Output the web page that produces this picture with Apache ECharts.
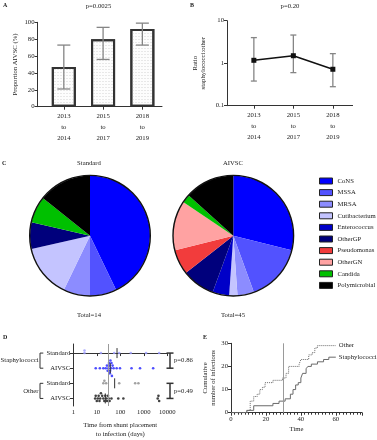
<!DOCTYPE html>
<html>
<head>
<meta charset="utf-8">
<script src="https://cdn.jsdelivr.net/npm/echarts@6/dist/echarts.min.js"></script>
<style>
  html, body { margin: 0; padding: 0; background: #fff; }
  #chart { width: 377px; height: 440px; }
</style>
</head>
<body>
<div id="chart"></div>
<script>
// A / B : by period
var periods = ['2013\nto\n2014', '2015\nto\n2017', '2018\nto\n2019'];
var aivscPct = [47, 80, 92];
var aivscLow = [21, 56, 73];
var aivscHigh = [73, 94, 99];
var ratio = [1.17, 1.5, 0.72];
var ratioLow = [0.38, 0.6, 0.28];
var ratioHigh = [4.0, 4.6, 1.68];

// C : organisms
var organisms = ['CoNS', 'MSSA', 'MRSA', 'Cutibacterium', 'Enterococcus', 'OtherGP', 'Pseudomonas', 'OtherGN', 'Candida', 'Polymicrobial'];
var orgColors = ['#0000ff', '#5252ff', '#8c8cff', '#c4c4ff', '#0000c8', '#00007c', '#f23c3c', '#ffa2a2', '#00c000', '#000000'];
var standardCounts = [6, 1, 1, 2, 0, 1, 0, 0, 1, 2];
var aivscCounts = [13, 7, 2, 1, 2, 4, 3, 6, 1, 6];

// D : time to infection (days)
var rowLabels = ['Standard', 'AIVSC', 'Standard', 'AIVSC'];
var groupLabels = ['Staphylococci', 'Other'];
var staphStandardDays = [3, 3, 15, 55, 90, 280, 1250, 4500];
var staphAivscDays = [9, 13.5, 19, 24, 27, 29, 31, 33, 35, 36, 37, 38, 40, 42, 44, 47, 52, 70, 97, 300, 690, 2500];
var otherStandardDays = [19, 21, 25, 90, 430, 590];
var otherAivscDays = [8.5, 9, 10, 11, 12, 13, 14, 15, 17, 19, 21, 23, 25, 27, 30, 32, 35, 42, 82, 135, 3900, 4200, 4500];
var pValuesD = ['p=0.86', 'p=0.49'];

// E : cumulative infections vs time
var otherCurve = [[0, 0], [9.5, 1], [11, 5], [13, 7], [15, 8], [16.5, 10], [18, 11], [19.5, 13], [24, 14], [29.5, 15], [31.5, 17], [33, 20], [39, 21], [40, 23], [44.5, 25], [46.5, 26], [48, 28], [49.5, 29], [60, 29]];
var staphCurve = [[0, 0], [9, 1], [13, 3], [24, 4], [27.5, 5], [31, 6], [34, 8], [35.5, 10], [37, 12], [38.5, 13], [40, 15], [41, 17], [43, 19], [44, 20], [46, 21], [49.5, 22], [53, 23], [56, 24], [60, 24]];

var FONT = 'Liberation Serif';
var FS = 6.7;
var INK = '#222';

var chart = echarts.init(document.getElementById('chart'));

function axisBase(extra) {
  var a = {
    axisLine: { show: true, lineStyle: { color: '#333', width: 1 } },
    axisTick: { show: true, length: 3, lineStyle: { color: '#333' } },
    axisLabel: { fontFamily: FONT, fontSize: FS, color: INK, margin: 3 },
    splitLine: { show: false },
    nameTextStyle: { fontFamily: FONT, fontSize: FS, color: INK }
  };
  for (var k in extra) {
    if (a[k] && typeof extra[k] === 'object' && !Array.isArray(extra[k])) {
      a[k] = Object.assign({}, a[k], extra[k]);
    } else {
      a[k] = extra[k];
    }
  }
  return a;
}

function errBars(capHalf) {
  return function (params, api) {
    var x = api.value(0);
    var lo = api.coord([x, api.value(1)]);
    var hi = api.coord([x, api.value(2)]);
    var st = { stroke: '#858585', lineWidth: 1.3 };
    return {
      type: 'group',
      children: [
        { type: 'line', shape: { x1: lo[0], y1: lo[1], x2: hi[0], y2: hi[1] }, style: st },
        { type: 'line', shape: { x1: lo[0] - capHalf, y1: lo[1], x2: lo[0] + capHalf, y2: lo[1] }, style: st },
        { type: 'line', shape: { x1: hi[0] - capHalf, y1: hi[1], x2: hi[0] + capHalf, y2: hi[1] }, style: st }
      ]
    };
  };
}

// simple beeswarm: stack close points vertically
function swarm(values, row) {
  var placed = [];
  return values.slice().sort(function (a, b) { return a - b; }).map(function (v) {
    var lx = Math.log10(v);
    var k = 0, off;
    while (true) {
      off = k === 0 ? 0 : (k % 2 ? -(k + 1) / 2 : k / 2);
      var clash = placed.some(function (p) { return p.off === off && Math.abs(p.lx - lx) < 0.1; });
      if (!clash) break;
      k++;
    }
    placed.push({ lx: lx, off: off });
    return [v, row + off * 0.17];
  });
}

function median(arr) {
  var s = arr.slice().sort(function (a, b) { return a - b; });
  var n = s.length;
  return n % 2 ? s[(n - 1) / 2] : (s[n / 2 - 1] + s[n / 2]) / 2;
}

var dRows = [staphStandardDays, staphAivscDays, otherStandardDays, otherAivscDays];
var dColors = ['#9a9aff', '#2020ff', '#8a8a8a', '#111111'];

var dScatter = dRows.map(function (vals, i) {
  var s = {
    type: 'scatter', xAxisIndex: 2, yAxisIndex: 2,
    symbol: 'circle', symbolSize: 2.6,
    itemStyle: { color: dColors[i] },
    data: swarm(vals, i),
    silent: true, z: 3
  };
  if (i === 0) {
    s.markLine = {
      silent: true, symbol: 'none', label: { show: false },
      lineStyle: { color: '#9a9a9a', width: 1, type: 'solid' },
      data: [{ xAxis: 30 }]
    };
  }
  return s;
});

var pieData = function (counts) {
  return organisms.map(function (n, i) {
    return { name: n, value: counts[i], itemStyle: { color: orgColors[i] } };
  });
};

function pieSeries(counts, cx) {
  return [{
    type: 'pie', center: [cx, 235.7], radius: 60, startAngle: 90, clockwise: true,
    label: { show: false }, labelLine: { show: false }, silent: true,
    itemStyle: { borderWidth: 0 },
    emphasis: { disabled: true },
    data: pieData(counts)
  }, {
    type: 'pie', center: [cx, 235.7], radius: [59.6, 61], silent: true,
    label: { show: false }, labelLine: { show: false },
    itemStyle: { color: '#111', borderWidth: 0 },
    emphasis: { disabled: true },
    data: [{ name: 'ring', value: 1 }]
  }];
}

function txt(x, y, s, align, font) {
  return {
    type: 'text', x: x, y: y,
    style: { text: s, font: font || (FS + 'px ' + FONT), fill: INK, align: align || 'center', verticalAlign: 'middle' }
  };
}

var option = {
  animation: false,
  textStyle: { fontFamily: FONT },
  grid: [
    { left: 37.5, top: 22.3, width: 124.5, height: 84.4 },
    { left: 227, top: 20.7, width: 125.6, height: 85 },
    { left: 73.3, top: 344, width: 94, height: 66 },
    { left: 231, top: 343.3, width: 131, height: 69.4 }
  ],
  xAxis: [
    axisBase({
      gridIndex: 0, type: 'value', min: 0.33, max: 3.5,
      axisTick: { customValues: [1, 2, 3], length: 3 },
      axisLabel: { customValues: [1, 2, 3], lineHeight: 11, margin: 4, formatter: function (v) { return periods[Math.round(v) - 1]; } }
    }),
    axisBase({
      gridIndex: 1, type: 'value', min: 0.32, max: 3.5,
      axisTick: { customValues: [1, 2, 3], length: 3 },
      axisLabel: { customValues: [1, 2, 3], lineHeight: 11, margin: 4, formatter: function (v) { return periods[Math.round(v) - 1]; } }
    }),
    axisBase({
      gridIndex: 2, type: 'log', logBase: 10, min: 1, max: 10000,
      name: 'Time from shunt placement\nto infection (days)', nameLocation: 'middle', nameGap: 15,
      nameTextStyle: { lineHeight: 9 },
      axisLabel: { formatter: function (v) { return String(Math.round(v)); } }
    }),
    axisBase({
      gridIndex: 3, type: 'value', min: 0, max: 75, interval: 20,
      name: 'Time', nameLocation: 'middle', nameGap: 13,
      minorTick: { show: true, splitNumber: 10, length: 2, lineStyle: { color: '#333' } },
      axisLabel: { showMaxLabel: false }
    })
  ],
  yAxis: [
    axisBase({
      gridIndex: 0, type: 'value', min: 0, max: 100, interval: 20,
      name: 'Proportion AIVSC (%)', nameLocation: 'middle', nameGap: 19
    }),
    axisBase({
      gridIndex: 1, type: 'log', logBase: 10, min: 0.1, max: 10,
      name: 'Ratio\nstaphylococci:other', nameLocation: 'middle', nameGap: 20,
      nameTextStyle: { lineHeight: 8 },
      axisLabel: { formatter: function (v) { return String(v); } }
    }),
    axisBase({
      gridIndex: 2, type: 'value', inverse: true, min: -0.6, max: 3.5,
      axisTick: { customValues: [0, 1, 2, 3], length: 3.5 },
      axisLabel: { customValues: [0, 1, 2, 3], margin: 3, formatter: function (v) { return rowLabels[Math.round(v)]; } }
    }),
    axisBase({
      gridIndex: 3, type: 'value', min: 0, max: 30, interval: 10,
      name: 'Cumulative\nnumber of infections', nameLocation: 'middle', nameGap: 11,
      nameTextStyle: { lineHeight: 8 }
    })
  ],
  legend: {
    orient: 'vertical', left: 319, top: 177.5, padding: 0,
    itemWidth: 13, itemHeight: 6, itemGap: 4.6,
    icon: 'rect', selectedMode: false,
    itemStyle: { borderColor: '#222', borderWidth: 1 },
    textStyle: { fontFamily: FONT, fontSize: FS, color: INK },
    data: organisms
  },
  graphic: [
    txt(3, 5, 'A', 'left', 'bold 6px ' + FONT),
    txt(190, 5, 'B', 'left', 'bold 6px ' + FONT),
    txt(2, 163, 'C', 'left', 'bold 6px ' + FONT),
    txt(3, 337, 'D', 'left', 'bold 6px ' + FONT),
    txt(203, 337, 'E', 'left', 'bold 6px ' + FONT),
    txt(98.5, 6, 'p=0.0025'),
    txt(290, 6, 'p=0.20'),
    txt(89, 163, 'Standard'),
    txt(233, 163, 'AIVSC'),
    txt(89, 315, 'Total=14'),
    txt(233, 315, 'Total=45')
  ],
  series: [
    // A bars
    {
      type: 'bar', xAxisIndex: 0, yAxisIndex: 0, barWidth: 24, silent: true,
      itemStyle: {
        color: '#fdfdfd', borderColor: '#333', borderWidth: 2,
        decal: { symbol: 'rect', symbolSize: 1, color: 'rgba(200,200,200,0.4)', dashArrayX: [2, 1], dashArrayY: [1, 2], rotation: 0 }
      },
      data: aivscPct.map(function (v, i) { return [i + 1, v]; })
    },
    {
      type: 'custom', xAxisIndex: 0, yAxisIndex: 0, silent: true, z: 5,
      renderItem: errBars(6.5),
      data: aivscPct.map(function (v, i) { return [i + 1, aivscLow[i], aivscHigh[i]]; })
    },
    // B ratio
    {
      type: 'custom', xAxisIndex: 1, yAxisIndex: 1, silent: true, z: 1,
      renderItem: errBars(3),
      data: ratio.map(function (v, i) { return [i + 1, ratioLow[i], ratioHigh[i]]; })
    },
    {
      type: 'line', xAxisIndex: 1, yAxisIndex: 1, silent: true, z: 4,
      symbol: 'rect', symbolSize: 5,
      lineStyle: { color: '#111', width: 1.5 },
      itemStyle: { color: '#111' },
      data: ratio.map(function (v, i) { return [i + 1, v]; })
    }
  ]
    .concat(pieSeries(standardCounts, 90))
    .concat(pieSeries(aivscCounts, 233.3))
    .concat(dScatter)
    .concat([
      // medians in D
      {
        type: 'custom', xAxisIndex: 2, yAxisIndex: 2, silent: true, z: 4,
        renderItem: function (params, api) {
          var p = api.coord([api.value(0), api.value(1)]);
          return { type: 'line', shape: { x1: p[0], y1: p[1] - 5, x2: p[0], y2: p[1] + 5 }, style: { stroke: '#333', lineWidth: 1 } };
        },
        data: dRows.map(function (vals, i) { return [median(vals), i]; })
      },
      // group labels, brackets and p-values in D
      {
        type: 'custom', xAxisIndex: 2, yAxisIndex: 2, silent: true, clip: false, z: 4,
        renderItem: function (params, api) {
          var g = api.value(0);
          var top = api.coord([1, g * 2]);
          var bot = api.coord([1, g * 2 + 1]);
          var rightTop = api.coord([10000, g * 2]);
          var bx = top[0] - 33.3;
          var px = rightTop[0] + 2.7;
          var mid = (top[1] + bot[1]) / 2;
          var ink = { stroke: '#333', lineWidth: 1 };
          var pInk = { stroke: '#333', lineWidth: 1.5 };
          return {
            type: 'group',
            children: [
              { type: 'line', shape: { x1: bx, y1: top[1], x2: bx, y2: bot[1] }, style: ink },
              { type: 'line', shape: { x1: bx, y1: top[1], x2: bx + 3.3, y2: top[1] }, style: ink },
              { type: 'line', shape: { x1: bx, y1: bot[1], x2: bx + 3.3, y2: bot[1] }, style: ink },
              { type: 'text', x: bx - 1.5, y: mid, style: { text: groupLabels[g], font: FS + 'px ' + FONT, fill: INK, align: 'right', verticalAlign: 'middle' } },
              { type: 'line', shape: { x1: px, y1: top[1], x2: px, y2: bot[1] }, style: pInk },
              { type: 'line', shape: { x1: px - 3.5, y1: top[1], x2: px + 3.5, y2: top[1] }, style: pInk },
              { type: 'line', shape: { x1: px - 3.5, y1: bot[1], x2: px + 3.5, y2: bot[1] }, style: pInk },
              { type: 'text', x: px + 4, y: mid, style: { text: pValuesD[g], font: FS + 'px ' + FONT, fill: INK, align: 'left', verticalAlign: 'middle' } }
            ]
          };
        },
        data: [[0], [1]]
      },
      // E curves
      {
        name: 'Other', type: 'line', xAxisIndex: 3, yAxisIndex: 3, step: 'end', silent: true,
        symbol: 'none', lineStyle: { color: '#6a6a6a', width: 1, type: 'dotted' },
        endLabel: { show: true, formatter: '{a}', fontFamily: FONT, fontSize: FS, color: INK, distance: 3 },
        data: otherCurve,
        markLine: {
          silent: true, symbol: 'none', label: { show: false },
          lineStyle: { color: '#9a9a9a', width: 1, type: 'solid' },
          data: [{ xAxis: 30 }]
        }
      },
      {
        name: 'Staphylococci', type: 'line', xAxisIndex: 3, yAxisIndex: 3, step: 'end', silent: true,
        symbol: 'none', lineStyle: { color: '#6a6a6a', width: 1, type: 'solid' },
        endLabel: { show: true, formatter: '{a}', fontFamily: FONT, fontSize: FS, color: INK, distance: 3 },
        data: staphCurve
      }
    ])
};

chart.setOption(option);
</script>
</body>
</html>
